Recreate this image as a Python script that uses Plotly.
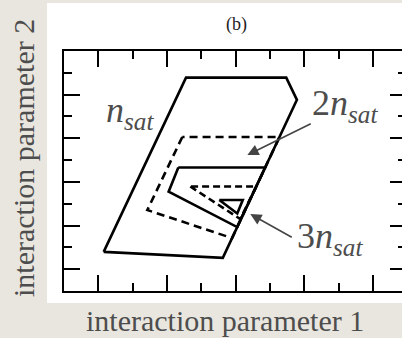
import plotly.graph_objects as go

# ---- data (axis units) ----
nsat_x = [1.155, 4.623, 6.781, 6.470, 3.552, 1.155]
nsat_y = [1.795, 1.520, 8.760, 9.780, 9.780, 1.795]

twon_dash_x = [3.444, 2.426, 4.893, 6.275, 3.444]
twon_dash_y = [7.060, 3.710, 2.424, 7.060, 7.060]

twon_solid_x = [3.328, 3.046, 5.041, 5.856, 3.328]
twon_solid_y = [5.660, 4.550, 2.930, 5.660, 5.660]

threen_dash_x = [3.677, 5.131, 5.597, 3.677]
threen_dash_y = [4.790, 3.300, 4.790, 4.790]

threen_solid_x = [4.521, 5.204, 5.044, 4.521]
threen_solid_y = [4.170, 4.170, 3.550, 4.170]

# arrows: (tail_x, tail_y, tip_x, tip_y)
arrow_2n = (7.227, 7.70, 5.338, 6.234)
arrow_3n = (6.674, 2.424, 5.423, 3.526)

x_major = [1, 3, 5, 7, 9]
y_major = [1, 3, 5, 7, 9]
x_range = [0, 9.84]
y_range = [0, 11]

PAGE = "#e9e6df"
TXT = "#4d4d4d"

fig = go.Figure()

def poly(x, y, dash):
    fig.add_trace(go.Scatter(x=x, y=y, mode="lines",
                             line=dict(color="black", width=2.6, dash=dash),
                             hoverinfo="skip", showlegend=False))

poly(nsat_x, nsat_y, "solid")
poly(twon_dash_x, twon_dash_y, "8px,5px")
poly(twon_solid_x, twon_solid_y, "solid")
poly(threen_dash_x, threen_dash_y, "7px,4px")
poly(threen_solid_x, threen_solid_y, "solid")

# invisible trace for the right-hand tick axis
fig.add_trace(go.Scatter(x=[], y=[], yaxis="y2", showlegend=False))

annotations = []
for (tx, ty, hx, hy) in (arrow_2n, arrow_3n):
    annotations.append(dict(x=hx, y=hy, ax=tx, ay=ty, xref="x", yref="y",
                            axref="x", ayref="y", text="", showarrow=True,
                            arrowhead=2, arrowsize=1.4, arrowwidth=1.6,
                            arrowcolor="#444444", standoff=0, startstandoff=0))

lab_font = dict(family="Liberation Serif", size=36, color=TXT)
annotations += [
    dict(x=1.15, y=8.2, xref="x", yref="y", text="<i>n<sub>sat</sub></i>",
         showarrow=False, xanchor="left", yanchor="middle", font=lab_font),
    dict(x=7.15, y=8.5, xref="x", yref="y", text="2<i>n<sub>sat</sub></i>",
         showarrow=False, xanchor="left", yanchor="middle", font=lab_font),
    dict(x=6.72, y=2.4, xref="x", yref="y", text="3<i>n<sub>sat</sub></i>",
         showarrow=False, xanchor="left", yanchor="middle", font=lab_font),
    dict(x=(236 - 64) / 338, y=(291 - 25) / 240, xref="paper", yref="paper",
         text="(b)", showarrow=False, xanchor="center", yanchor="middle",
         font=dict(family="Liberation Serif", size=18, color="#222222")),
    dict(x=(225 - 64) / 338, y=(291 - 320) / 240, xref="paper", yref="paper",
         text="interaction parameter 1", showarrow=False, xanchor="center",
         yanchor="middle", font=dict(family="Liberation Serif", size=30, color=TXT)),
    dict(x=(23 - 64) / 338, y=(291 - 158) / 240, xref="paper", yref="paper",
         text="interaction parameter 2", showarrow=False, xanchor="center",
         yanchor="middle", textangle=-90,
         font=dict(family="Liberation Serif", size=30, color=TXT)),
]

fig.update_layout(
    width=402, height=338,
    margin=dict(l=64, r=0, t=51, b=47),
    paper_bgcolor=PAGE, plot_bgcolor="white",
    showlegend=False,
    annotations=annotations,
    shapes=[dict(type="rect", xref="paper", yref="paper",
                 x0=(47 - 64) / 338, x1=1.05, y0=(291 - 303) / 240, y1=(291 - 3) / 240,
                 fillcolor="white", line=dict(width=0), layer="below")],
    xaxis=dict(range=x_range, showgrid=False, zeroline=False, showticklabels=False,
               showline=True, linecolor="black", linewidth=2, mirror="ticks",
               ticks="inside", tickvals=x_major, ticklen=16, tickwidth=2, tickcolor="black",
               minor=dict(ticks="inside", dtick=1, tick0=0, ticklen=8, tickwidth=2,
                          tickcolor="black", showgrid=False)),
    yaxis=dict(range=y_range, showgrid=False, zeroline=False, showticklabels=False,
               showline=True, linecolor="black", linewidth=2, mirror=False,
               ticks="inside", tickvals=y_major, ticklen=16, tickwidth=2, tickcolor="black",
               minor=dict(ticks="inside", dtick=1, tick0=0, ticklen=8, tickwidth=2,
                          tickcolor="black", showgrid=False)),
    yaxis2=dict(range=y_range, overlaying="y", side="right", anchor="x",
                showgrid=False, zeroline=False, showticklabels=False, showline=False,
                ticks="inside", tickvals=y_major, ticklen=12, tickwidth=2, tickcolor="black",
                minor=dict(ticks="inside", dtick=1, tick0=0, ticklen=4, tickwidth=2,
                           tickcolor="black", showgrid=False)),
)

fig.write_html("out.html")
